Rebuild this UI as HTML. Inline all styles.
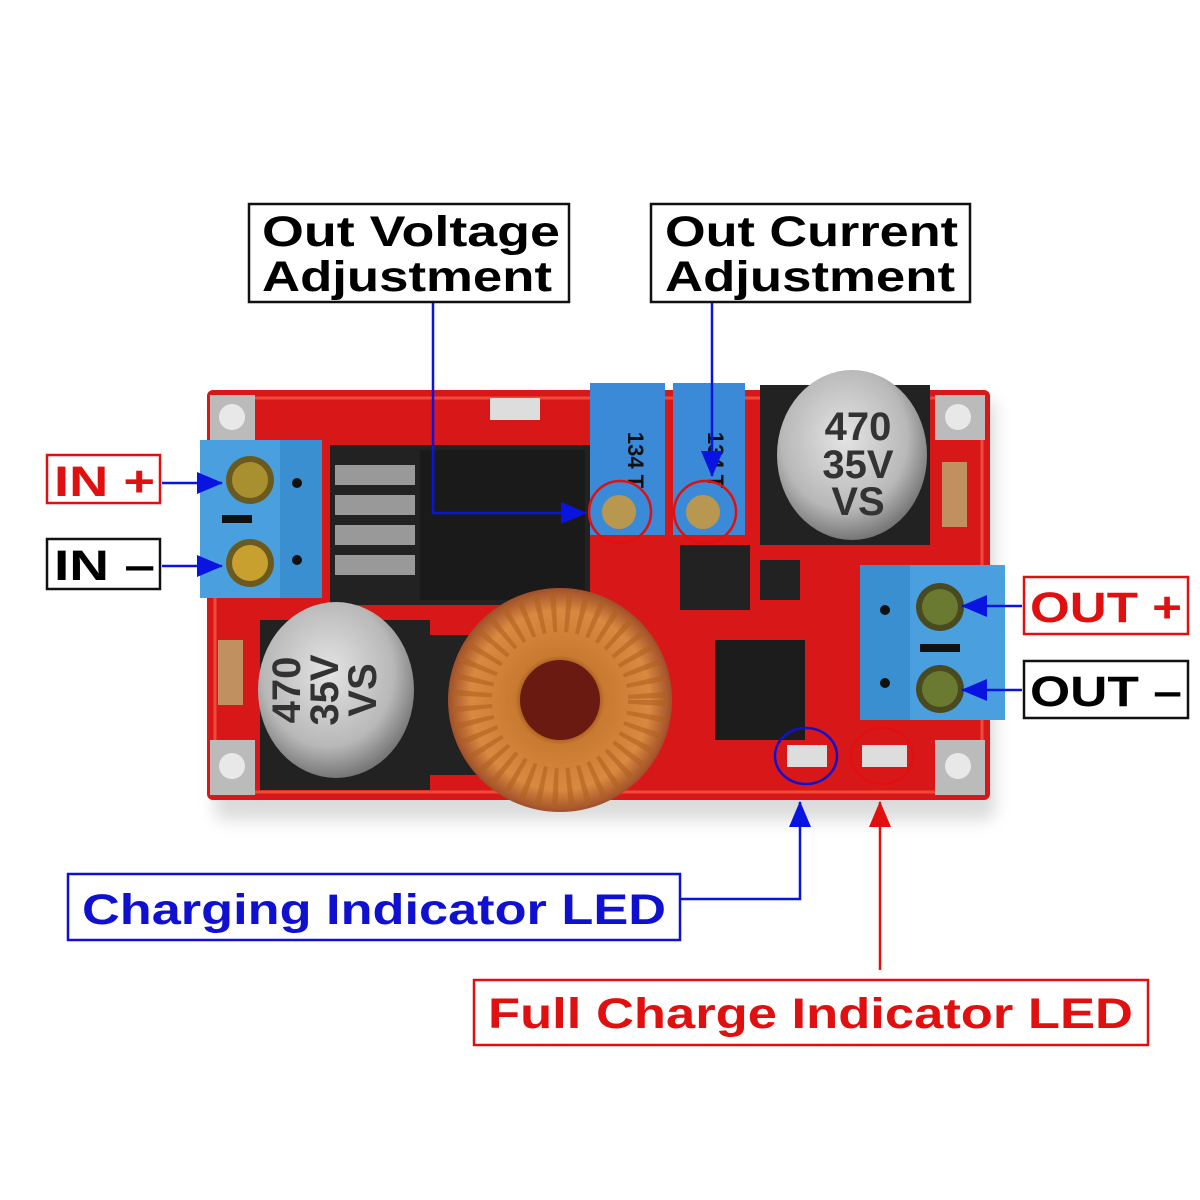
<!DOCTYPE html>
<html><head><meta charset="utf-8"><style>
html,body{margin:0;padding:0;background:#fff;}
svg{display:block;}
text{font-family:"Liberation Sans",Arial,sans-serif;font-weight:bold;}
</style></head><body>
<svg width="1200" height="1200" viewBox="0 0 1200 1200" xmlns="http://www.w3.org/2000/svg">
<defs>
<marker id="ab" markerWidth="26" markerHeight="22" refX="25" refY="11" orient="auto" markerUnits="userSpaceOnUse"><path d="M0,0 L26,11 L0,22 z" fill="#0a14e0"/></marker>
<marker id="ar" markerWidth="26" markerHeight="22" refX="25" refY="11" orient="auto" markerUnits="userSpaceOnUse"><path d="M0,0 L26,11 L0,22 z" fill="#e01010"/></marker>
<radialGradient id="cap" cx="45%" cy="40%" r="60%"><stop offset="0" stop-color="#e4e4e4"/><stop offset="0.7" stop-color="#b8b8b8"/><stop offset="1" stop-color="#777"/></radialGradient>
<radialGradient id="tor" cx="50%" cy="50%" r="50%"><stop offset="0.25" stop-color="#7a2a10"/><stop offset="0.4" stop-color="#c87a30"/><stop offset="0.8" stop-color="#d98a40"/><stop offset="1" stop-color="#a0502a"/></radialGradient>
<filter id="sh"><feGaussianBlur stdDeviation="8"/></filter>
</defs>
<rect width="1200" height="1200" fill="#fff"/>
<rect x="215" y="400" width="780" height="420" rx="10" fill="#999" opacity="0.35" filter="url(#sh)"/>
<rect x="207" y="390" width="783" height="410" rx="6" fill="#d81818"/>
<rect x="215" y="398" width="767" height="394" fill="none" stroke="#f04a3a" stroke-width="3"/>
<rect x="210" y="395" width="45" height="45" fill="#bbb"/><circle cx="232" cy="417" r="13" fill="#e8e8e8"/>
<rect x="210" y="740" width="45" height="55" fill="#bbb"/><circle cx="232" cy="766" r="13" fill="#e8e8e8"/>
<rect x="935" y="395" width="50" height="45" fill="#bbb"/><circle cx="958" cy="417" r="13" fill="#e8e8e8"/>
<rect x="935" y="740" width="50" height="55" fill="#bbb"/><circle cx="958" cy="766" r="13" fill="#e8e8e8"/>
<rect x="330" y="445" width="260" height="160" fill="#222"/>
<rect x="335" y="465" width="80" height="20" fill="#999"/><rect x="335" y="495" width="80" height="20" fill="#999"/><rect x="335" y="525" width="80" height="20" fill="#999"/><rect x="335" y="555" width="80" height="20" fill="#999"/>
<rect x="420" y="450" width="165" height="150" fill="#1a1a1a"/>
<rect x="200" y="440" width="122" height="158" fill="#3a8fd0"/>
<rect x="200" y="440" width="80" height="158" fill="#4aa0de"/>
<circle cx="250" cy="480" r="24" fill="#6a5a20"/><circle cx="250" cy="480" r="18" fill="#a89030"/>
<circle cx="250" cy="563" r="24" fill="#6a5a20"/><circle cx="250" cy="563" r="18" fill="#c8a030"/>
<rect x="222" y="515" width="30" height="8" fill="#111"/>
<circle cx="297" cy="483" r="5" fill="#111"/><circle cx="297" cy="560" r="5" fill="#111"/>
<rect x="590" y="383" width="75" height="152" fill="#3a8ad8"/>
<rect x="673" y="383" width="72" height="152" fill="#3a8ad8"/>
<text x="628" y="460" font-size="22" fill="#111" font-weight="normal" transform="rotate(90 628 460)" text-anchor="middle">134 T</text>
<text x="708" y="460" font-size="22" fill="#111" font-weight="normal" transform="rotate(90 708 460)" text-anchor="middle">134 T</text>
<circle cx="619" cy="512" r="17" fill="#b89850"/><circle cx="703" cy="512" r="17" fill="#b89850"/>
<rect x="760" y="385" width="170" height="160" fill="#222"/>
<ellipse cx="852" cy="455" rx="75" ry="85" fill="url(#cap)"/>
<text x="858" y="440" font-size="40" fill="#333" font-weight="normal" text-anchor="middle">470</text>
<text x="858" y="478" font-size="40" fill="#333" font-weight="normal" text-anchor="middle">35V</text>
<text x="858" y="515" font-size="40" fill="#333" font-weight="normal" text-anchor="middle">VS</text>
<rect x="942" y="462" width="25" height="65" fill="#c09060"/>
<rect x="260" y="620" width="170" height="170" fill="#222"/>
<ellipse cx="336" cy="690" rx="78" ry="88" fill="url(#cap)"/>
<text x="300" y="690" font-size="40" fill="#333" font-weight="normal" transform="rotate(-90 300 690)" text-anchor="middle">470</text>
<text x="338" y="690" font-size="40" fill="#333" font-weight="normal" transform="rotate(-90 338 690)" text-anchor="middle">35V</text>
<text x="376" y="690" font-size="40" fill="#333" font-weight="normal" transform="rotate(-90 376 690)" text-anchor="middle">VS</text>
<rect x="218" y="640" width="25" height="65" fill="#c09060"/>
<rect x="430" y="635" width="60" height="140" fill="#222"/>
<circle cx="560" cy="700" r="112" fill="url(#tor)"/>
<circle cx="560" cy="700" r="88" fill="none" stroke="#b06020" stroke-width="40" stroke-dasharray="5 9" opacity="0.6"/>
<circle cx="560" cy="700" r="40" fill="#6a1a10"/>
<rect x="715" y="640" width="90" height="100" fill="#1c1c1c"/>
<rect x="680" y="545" width="70" height="65" fill="#222"/>
<rect x="760" y="560" width="40" height="40" fill="#222"/>
<rect x="860" y="565" width="145" height="155" fill="#3a8fd0"/>
<rect x="910" y="565" width="95" height="155" fill="#4aa0de"/>
<circle cx="940" cy="607" r="24" fill="#4a4a20"/><circle cx="940" cy="607" r="18" fill="#6a7a30"/>
<circle cx="940" cy="689" r="24" fill="#4a4a20"/><circle cx="940" cy="689" r="18" fill="#6a7a30"/>
<rect x="920" y="644" width="40" height="8" fill="#111"/>
<circle cx="885" cy="610" r="5" fill="#111"/><circle cx="885" cy="683" r="5" fill="#111"/>
<rect x="787" y="745" width="40" height="22" fill="#ddd"/>
<rect x="862" y="745" width="45" height="22" fill="#ddd"/>
<rect x="490" y="398" width="50" height="22" fill="#ddd"/>
<circle cx="620" cy="512" r="31" fill="none" stroke="#e01010" stroke-width="2.5"/>
<circle cx="705" cy="512" r="31" fill="none" stroke="#e01010" stroke-width="2.5"/>
<ellipse cx="806" cy="756" rx="31" ry="28" fill="none" stroke="#1010d0" stroke-width="2.5"/>
<ellipse cx="882" cy="756" rx="31" ry="28" fill="none" stroke="#e01010" stroke-width="2.5"/>
<g stroke="#0a14e0" stroke-width="2.5" fill="none">
<polyline points="433,303 433,513 586,513" marker-end="url(#ab)"/>
<polyline points="712,303 712,476" marker-end="url(#ab)"/>
<line x1="162" y1="483" x2="222" y2="483" marker-end="url(#ab)"/>
<line x1="162" y1="566" x2="222" y2="566" marker-end="url(#ab)"/>
<line x1="1022" y1="606" x2="962" y2="606" marker-end="url(#ab)"/>
<line x1="1022" y1="690" x2="962" y2="690" marker-end="url(#ab)"/>
<polyline points="680,899 800,899 800,802" marker-end="url(#ab)"/>
</g>
<line x1="880" y1="970" x2="880" y2="802" stroke="#e01010" stroke-width="2.5" marker-end="url(#ar)"/>
<g stroke-width="2.5">
<rect x="249" y="204" width="320" height="98" fill="#fff" stroke="#111"/>
<rect x="651" y="204" width="319" height="98" fill="#fff" stroke="#111"/>
<rect x="47" y="455" width="113" height="48" fill="#fff" stroke="#e01010"/>
<rect x="47" y="539" width="113" height="50" fill="#fff" stroke="#111"/>
<rect x="1024" y="577" width="164" height="57" fill="#fff" stroke="#e01010"/>
<rect x="1024" y="661" width="164" height="57" fill="#fff" stroke="#111"/>
<rect x="68" y="874" width="612" height="66" fill="#fff" stroke="#1010d0"/>
<rect x="474" y="980" width="674" height="65" fill="#fff" stroke="#e01010"/>
</g>
<g font-size="43" fill="#000">
<text x="262" y="246" textLength="298" lengthAdjust="spacingAndGlyphs">Out Voltage</text>
<text x="262" y="291" textLength="290" lengthAdjust="spacingAndGlyphs">Adjustment</text>
<text x="665" y="246" textLength="293" lengthAdjust="spacingAndGlyphs">Out Current</text>
<text x="665" y="291" textLength="290" lengthAdjust="spacingAndGlyphs">Adjustment</text>
<text x="54" y="496" fill="#e01010" textLength="101" lengthAdjust="spacingAndGlyphs">IN +</text>
<text x="54" y="580" textLength="101" lengthAdjust="spacingAndGlyphs">IN –</text>
<text x="1030" y="622" fill="#e01010" textLength="152" lengthAdjust="spacingAndGlyphs">OUT +</text>
<text x="1030" y="706" textLength="152" lengthAdjust="spacingAndGlyphs">OUT –</text>
<text x="82" y="924" fill="#1010d0" textLength="584" lengthAdjust="spacingAndGlyphs">Charging Indicator LED</text>
<text x="488" y="1028" fill="#e01010" textLength="645" lengthAdjust="spacingAndGlyphs">Full Charge Indicator LED</text>
</g>
</svg>
</body></html>
